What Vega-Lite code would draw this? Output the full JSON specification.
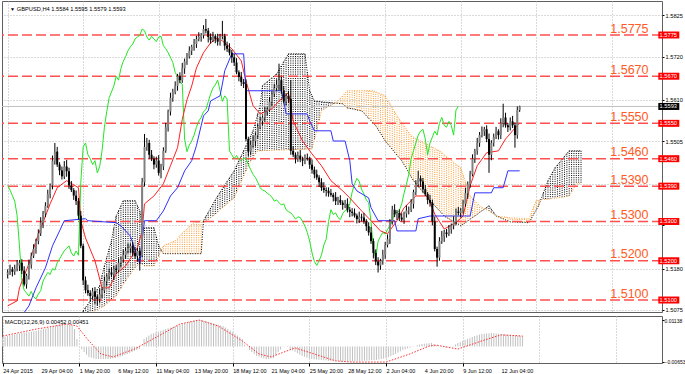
{
"$schema":"https://vega.github.io/schema/vega-lite/v6.json",
"padding":{"left":0,"top":0,"right":8,"bottom":0},
"background":"#ffffff",
"spacing":1,
"config":{
 "view":{"stroke":"#606060","strokeWidth":1},
 "font":"Liberation Sans",
 "axis":{"title":null,"labelFont":"Liberation Sans","labelFontSize":5.7,"labelColor":"#000000","tickColor":"#000000","tickSize":3,"domain":false,"gridColor":"#b4b4b4","gridDash":[1,2],"gridWidth":1,"labelOverlap":false,"labelFlush":false}
},
"datasets":{
"bars":[
{"i":0,"o":1.5165,"h":1.5178,"l":1.5155,"c":1.5170,"m":0.0041,"ch":1.5392},
{"i":1,"o":1.5170,"h":1.5190,"l":1.5164,"c":1.5178,"m":0.0043,"ch":1.5380},
{"i":2,"o":1.5178,"h":1.5184,"l":1.5160,"c":1.5172,"m":0.0046,"ch":1.5366},
{"i":3,"o":1.5172,"h":1.5190,"l":1.5164,"c":1.5180,"m":0.0048,"ch":1.5352},
{"i":4,"o":1.5180,"h":1.5202,"l":1.5173,"c":1.5188,"m":0.0050,"ch":1.5315},
{"i":5,"o":1.5188,"h":1.5202,"l":1.5174,"c":1.5195,"m":0.0052,"ch":1.5238},
{"i":6,"o":1.5195,"h":1.5204,"l":1.5166,"c":1.5175,"m":0.0054,"ch":1.5150},
{"i":7,"o":1.5175,"h":1.5186,"l":1.5135,"c":1.5140,"m":0.0056,"ch":1.5125},
{"i":8,"o":1.5140,"h":1.5167,"l":1.5129,"c":1.5162,"m":0.0058,"ch":1.5118},
{"i":9,"o":1.5162,"h":1.5203,"l":1.5152,"c":1.5190,"m":0.0060,"ch":1.5110},
{"i":10,"o":1.5190,"h":1.5221,"l":1.5180,"c":1.5213,"m":0.0061,"ch":1.5122},
{"i":11,"o":1.5213,"h":1.5242,"l":1.5207,"c":1.5230,"m":0.0063,"ch":1.5108},
{"i":12,"o":1.5230,"h":1.5256,"l":1.5218,"c":1.5250,"m":0.0064,"ch":1.5103},
{"i":13,"o":1.5250,"h":1.5280,"l":1.5242,"c":1.5270,"m":0.0066,"ch":1.5115},
{"i":14,"o":1.5270,"h":1.5311,"l":1.5263,"c":1.5297,"m":0.0067,"ch":1.5124},
{"i":15,"o":1.5297,"h":1.5327,"l":1.5283,"c":1.5320,"m":0.0070,"ch":1.5148},
{"i":16,"o":1.5320,"h":1.5349,"l":1.5311,"c":1.5340,"m":0.0072,"ch":1.5160},
{"i":17,"o":1.5340,"h":1.5381,"l":1.5335,"c":1.5370,"m":0.0075,"ch":1.5170},
{"i":18,"o":1.5370,"h":1.5397,"l":1.5359,"c":1.5392,"m":0.0077,"ch":1.5165},
{"i":19,"o":1.5392,"h":1.5468,"l":1.5382,"c":1.5455,"m":0.0080,"ch":1.5180},
{"i":20,"o":1.5455,"h":1.5500,"l":1.5445,"c":1.5478,"m":0.0083,"ch":1.5176},
{"i":21,"o":1.5478,"h":1.5490,"l":1.5439,"c":1.5445,"m":0.0087,"ch":1.5195},
{"i":22,"o":1.5445,"h":1.5451,"l":1.5418,"c":1.5430,"m":0.0090,"ch":1.5205},
{"i":23,"o":1.5430,"h":1.5440,"l":1.5407,"c":1.5415,"m":0.0093,"ch":1.5215},
{"i":24,"o":1.5415,"h":1.5454,"l":1.5408,"c":1.5440,"m":0.0095,"ch":1.5225},
{"i":25,"o":1.5440,"h":1.5457,"l":1.5414,"c":1.5428,"m":0.0097,"ch":1.5232},
{"i":26,"o":1.5428,"h":1.5437,"l":1.5383,"c":1.5392,"m":0.0099,"ch":1.5238},
{"i":27,"o":1.5392,"h":1.5403,"l":1.5375,"c":1.5380,"m":0.0097,"ch":1.5220},
{"i":28,"o":1.5380,"h":1.5385,"l":1.5355,"c":1.5366,"m":0.0095,"ch":1.5212},
{"i":29,"o":1.5366,"h":1.5379,"l":1.5342,"c":1.5352,"m":0.0093,"ch":1.5225},
{"i":30,"o":1.5352,"h":1.5360,"l":1.5305,"c":1.5315,"m":0.0075,"ch":1.5214},
{"i":31,"o":1.5315,"h":1.5327,"l":1.5232,"c":1.5238,"m":0.0032,"ch":1.5400},
{"i":32,"o":1.5238,"h":1.5244,"l":1.5138,"c":1.5150,"m":0.0000,"ch":1.5490},
{"i":33,"o":1.5150,"h":1.5160,"l":1.5117,"c":1.5125,"m":-0.0012,"ch":1.5500},
{"i":34,"o":1.5125,"h":1.5139,"l":1.5111,"c":1.5118,"m":-0.0024,"ch":1.5470},
{"i":35,"o":1.5118,"h":1.5125,"l":1.5096,"c":1.5110,"m":-0.0035,"ch":1.5460},
{"i":36,"o":1.5110,"h":1.5131,"l":1.5101,"c":1.5122,"m":-0.0045,"ch":1.5445},
{"i":37,"o":1.5122,"h":1.5133,"l":1.5090,"c":1.5108,"m":-0.0048,"ch":1.5455},
{"i":38,"o":1.5108,"h":1.5113,"l":1.5086,"c":1.5103,"m":-0.0051,"ch":1.5424},
{"i":39,"o":1.5103,"h":1.5128,"l":1.5093,"c":1.5115,"m":-0.0054,"ch":1.5440},
{"i":40,"o":1.5115,"h":1.5132,"l":1.5105,"c":1.5124,"m":-0.0054,"ch":1.5480},
{"i":41,"o":1.5124,"h":1.5160,"l":1.5118,"c":1.5148,"m":-0.0054,"ch":1.5540},
{"i":42,"o":1.5148,"h":1.5166,"l":1.5136,"c":1.5160,"m":-0.0054,"ch":1.5580},
{"i":43,"o":1.5160,"h":1.5180,"l":1.5152,"c":1.5170,"m":-0.0054,"ch":1.5615},
{"i":44,"o":1.5170,"h":1.5184,"l":1.5158,"c":1.5165,"m":-0.0054,"ch":1.5630},
{"i":45,"o":1.5165,"h":1.5187,"l":1.5151,"c":1.5180,"m":-0.0053,"ch":1.5645},
{"i":46,"o":1.5180,"h":1.5189,"l":1.5167,"c":1.5176,"m":-0.0051,"ch":1.5670},
{"i":47,"o":1.5176,"h":1.5206,"l":1.5171,"c":1.5195,"m":-0.0050,"ch":1.5660},
{"i":48,"o":1.5195,"h":1.5210,"l":1.5184,"c":1.5205,"m":-0.0047,"ch":1.5690},
{"i":49,"o":1.5205,"h":1.5228,"l":1.5195,"c":1.5215,"m":-0.0044,"ch":1.5708},
{"i":50,"o":1.5215,"h":1.5233,"l":1.5205,"c":1.5225,"m":-0.0041,"ch":1.5720},
{"i":51,"o":1.5225,"h":1.5244,"l":1.5219,"c":1.5232,"m":-0.0037,"ch":1.5735},
{"i":52,"o":1.5232,"h":1.5244,"l":1.5220,"c":1.5238,"m":-0.0033,"ch":1.5745},
{"i":53,"o":1.5238,"h":1.5248,"l":1.5212,"c":1.5220,"m":-0.0028,"ch":1.5752},
{"i":54,"o":1.5220,"h":1.5234,"l":1.5205,"c":1.5212,"m":-0.0024,"ch":1.5765},
{"i":55,"o":1.5212,"h":1.5232,"l":1.5198,"c":1.5225,"m":-0.0020,"ch":1.5770},
{"i":56,"o":1.5225,"h":1.5234,"l":1.5175,"c":1.5214,"m":-0.0015,"ch":1.5774},
{"i":57,"o":1.5214,"h":1.5411,"l":1.5209,"c":1.5400,"m":-0.0011,"ch":1.5790},
{"i":58,"o":1.5400,"h":1.5523,"l":1.5389,"c":1.5490,"m":0.0000,"ch":1.5786},
{"i":59,"o":1.5490,"h":1.5513,"l":1.5480,"c":1.5500,"m":0.0032,"ch":1.5770},
{"i":60,"o":1.5500,"h":1.5508,"l":1.5460,"c":1.5470,"m":0.0039,"ch":1.5762},
{"i":61,"o":1.5470,"h":1.5482,"l":1.5454,"c":1.5460,"m":0.0047,"ch":1.5772},
{"i":62,"o":1.5460,"h":1.5466,"l":1.5433,"c":1.5445,"m":0.0054,"ch":1.5765},
{"i":63,"o":1.5445,"h":1.5465,"l":1.5437,"c":1.5455,"m":0.0057,"ch":1.5758},
{"i":64,"o":1.5455,"h":1.5469,"l":1.5417,"c":1.5424,"m":0.0061,"ch":1.5770},
{"i":65,"o":1.5424,"h":1.5447,"l":1.5410,"c":1.5440,"m":0.0064,"ch":1.5772},
{"i":66,"o":1.5440,"h":1.5489,"l":1.5431,"c":1.5480,"m":0.0068,"ch":1.5748},
{"i":67,"o":1.5480,"h":1.5551,"l":1.5475,"c":1.5540,"m":0.0071,"ch":1.5740},
{"i":68,"o":1.5540,"h":1.5585,"l":1.5529,"c":1.5580,"m":0.0074,"ch":1.5730},
{"i":69,"o":1.5580,"h":1.5628,"l":1.5570,"c":1.5615,"m":0.0078,"ch":1.5718},
{"i":70,"o":1.5615,"h":1.5638,"l":1.5605,"c":1.5630,"m":0.0081,"ch":1.5705},
{"i":71,"o":1.5630,"h":1.5657,"l":1.5624,"c":1.5645,"m":0.0084,"ch":1.5680},
{"i":72,"o":1.5645,"h":1.5676,"l":1.5633,"c":1.5670,"m":0.0087,"ch":1.5668},
{"i":73,"o":1.5670,"h":1.5680,"l":1.5652,"c":1.5660,"m":0.0091,"ch":1.5655},
{"i":74,"o":1.5660,"h":1.5704,"l":1.5653,"c":1.5690,"m":0.0094,"ch":1.5650},
{"i":75,"o":1.5690,"h":1.5715,"l":1.5676,"c":1.5708,"m":0.0097,"ch":1.5510},
{"i":76,"o":1.5708,"h":1.5729,"l":1.5699,"c":1.5720,"m":0.0100,"ch":1.5478},
{"i":77,"o":1.5720,"h":1.5746,"l":1.5715,"c":1.5735,"m":0.0104,"ch":1.5495},
{"i":78,"o":1.5735,"h":1.5750,"l":1.5724,"c":1.5745,"m":0.0107,"ch":1.5505},
{"i":79,"o":1.5745,"h":1.5765,"l":1.5735,"c":1.5752,"m":0.0110,"ch":1.5520},
{"i":80,"o":1.5752,"h":1.5773,"l":1.5742,"c":1.5765,"m":0.0111,"ch":1.5540},
{"i":81,"o":1.5765,"h":1.5782,"l":1.5759,"c":1.5770,"m":0.0112,"ch":1.5556},
{"i":82,"o":1.5770,"h":1.5780,"l":1.5758,"c":1.5774,"m":0.0113,"ch":1.5565},
{"i":83,"o":1.5774,"h":1.5800,"l":1.5766,"c":1.5790,"m":0.0114,"ch":1.5580},
{"i":84,"o":1.5790,"h":1.5816,"l":1.5779,"c":1.5786,"m":0.0111,"ch":1.5585},
{"i":85,"o":1.5786,"h":1.5793,"l":1.5756,"c":1.5770,"m":0.0109,"ch":1.5605},
{"i":86,"o":1.5770,"h":1.5779,"l":1.5753,"c":1.5762,"m":0.0106,"ch":1.5625},
{"i":87,"o":1.5762,"h":1.5783,"l":1.5757,"c":1.5772,"m":0.0103,"ch":1.5640},
{"i":88,"o":1.5772,"h":1.5777,"l":1.5754,"c":1.5765,"m":0.0100,"ch":1.5648},
{"i":89,"o":1.5765,"h":1.5778,"l":1.5748,"c":1.5758,"m":0.0097,"ch":1.5660},
{"i":90,"o":1.5758,"h":1.5778,"l":1.5748,"c":1.5770,"m":0.0094,"ch":1.5634},
{"i":91,"o":1.5770,"h":1.5811,"l":1.5764,"c":1.5772,"m":0.0091,"ch":1.5606},
{"i":92,"o":1.5772,"h":1.5778,"l":1.5736,"c":1.5748,"m":0.0088,"ch":1.5620},
{"i":93,"o":1.5748,"h":1.5758,"l":1.5732,"c":1.5740,"m":0.0082,"ch":1.5612},
{"i":94,"o":1.5740,"h":1.5754,"l":1.5723,"c":1.5730,"m":0.0075,"ch":1.5480},
{"i":95,"o":1.5730,"h":1.5737,"l":1.5704,"c":1.5718,"m":0.0069,"ch":1.5470},
{"i":96,"o":1.5718,"h":1.5727,"l":1.5696,"c":1.5705,"m":0.0062,"ch":1.5460},
{"i":97,"o":1.5705,"h":1.5716,"l":1.5675,"c":1.5680,"m":0.0055,"ch":1.5468},
{"i":98,"o":1.5680,"h":1.5685,"l":1.5657,"c":1.5668,"m":0.0047,"ch":1.5458},
{"i":99,"o":1.5668,"h":1.5681,"l":1.5645,"c":1.5655,"m":0.0040,"ch":1.5455},
{"i":100,"o":1.5655,"h":1.5663,"l":1.5640,"c":1.5650,"m":0.0032,"ch":1.5462},
{"i":101,"o":1.5650,"h":1.5662,"l":1.5504,"c":1.5510,"m":0.0008,"ch":1.5460},
{"i":102,"o":1.5510,"h":1.5516,"l":1.5466,"c":1.5478,"m":0.0000,"ch":1.5445},
{"i":103,"o":1.5478,"h":1.5505,"l":1.5470,"c":1.5495,"m":-0.0015,"ch":1.5432},
{"i":104,"o":1.5495,"h":1.5519,"l":1.5488,"c":1.5505,"m":-0.0024,"ch":1.5420},
{"i":105,"o":1.5505,"h":1.5527,"l":1.5491,"c":1.5520,"m":-0.0032,"ch":1.5412},
{"i":106,"o":1.5520,"h":1.5549,"l":1.5511,"c":1.5540,"m":-0.0041,"ch":1.5400},
{"i":107,"o":1.5540,"h":1.5567,"l":1.5535,"c":1.5556,"m":-0.0044,"ch":1.5386},
{"i":108,"o":1.5556,"h":1.5570,"l":1.5545,"c":1.5565,"m":-0.0048,"ch":1.5380},
{"i":109,"o":1.5565,"h":1.5593,"l":1.5555,"c":1.5580,"m":-0.0051,"ch":1.5378},
{"i":110,"o":1.5580,"h":1.5593,"l":1.5570,"c":1.5585,"m":-0.0054,"ch":1.5372},
{"i":111,"o":1.5585,"h":1.5617,"l":1.5579,"c":1.5605,"m":-0.0053,"ch":1.5368},
{"i":112,"o":1.5605,"h":1.5631,"l":1.5593,"c":1.5625,"m":-0.0051,"ch":1.5362},
{"i":113,"o":1.5625,"h":1.5650,"l":1.5617,"c":1.5640,"m":-0.0050,"ch":1.5352},
{"i":114,"o":1.5640,"h":1.5662,"l":1.5633,"c":1.5648,"m":-0.0037,"ch":1.5355},
{"i":115,"o":1.5648,"h":1.5702,"l":1.5634,"c":1.5660,"m":-0.0024,"ch":1.5348},
{"i":116,"o":1.5660,"h":1.5669,"l":1.5625,"c":1.5634,"m":-0.0013,"ch":1.5342},
{"i":117,"o":1.5634,"h":1.5645,"l":1.5601,"c":1.5606,"m":-0.0002,"ch":1.5345},
{"i":118,"o":1.5606,"h":1.5625,"l":1.5595,"c":1.5620,"m":0.0000,"ch":1.5330},
{"i":119,"o":1.5620,"h":1.5633,"l":1.5602,"c":1.5612,"m":0.0002,"ch":1.5325},
{"i":120,"o":1.5612,"h":1.5660,"l":1.5470,"c":1.5480,"m":-0.0011,"ch":1.5322},
{"i":121,"o":1.5480,"h":1.5492,"l":1.5464,"c":1.5470,"m":-0.0017,"ch":1.5315},
{"i":122,"o":1.5470,"h":1.5476,"l":1.5448,"c":1.5460,"m":-0.0023,"ch":1.5306},
{"i":123,"o":1.5460,"h":1.5478,"l":1.5452,"c":1.5468,"m":-0.0029,"ch":1.5312},
{"i":124,"o":1.5468,"h":1.5482,"l":1.5451,"c":1.5458,"m":-0.0035,"ch":1.5310},
{"i":125,"o":1.5458,"h":1.5465,"l":1.5441,"c":1.5455,"m":-0.0041,"ch":1.5300},
{"i":126,"o":1.5455,"h":1.5471,"l":1.5446,"c":1.5462,"m":-0.0044,"ch":1.5288},
{"i":127,"o":1.5462,"h":1.5473,"l":1.5455,"c":1.5460,"m":-0.0048,"ch":1.5272},
{"i":128,"o":1.5460,"h":1.5465,"l":1.5434,"c":1.5445,"m":-0.0051,"ch":1.5250},
{"i":129,"o":1.5445,"h":1.5458,"l":1.5422,"c":1.5432,"m":-0.0054,"ch":1.5220},
{"i":130,"o":1.5432,"h":1.5440,"l":1.5410,"c":1.5420,"m":-0.0055,"ch":1.5198},
{"i":131,"o":1.5420,"h":1.5432,"l":1.5406,"c":1.5412,"m":-0.0056,"ch":1.5188},
{"i":132,"o":1.5412,"h":1.5418,"l":1.5388,"c":1.5400,"m":-0.0057,"ch":1.5200},
{"i":133,"o":1.5400,"h":1.5410,"l":1.5378,"c":1.5386,"m":-0.0058,"ch":1.5215},
{"i":134,"o":1.5386,"h":1.5400,"l":1.5373,"c":1.5380,"m":-0.0059,"ch":1.5240},
{"i":135,"o":1.5380,"h":1.5387,"l":1.5364,"c":1.5378,"m":-0.0060,"ch":1.5255},
{"i":136,"o":1.5378,"h":1.5387,"l":1.5363,"c":1.5372,"m":-0.0061,"ch":1.5300},
{"i":137,"o":1.5372,"h":1.5383,"l":1.5363,"c":1.5368,"m":-0.0062,"ch":1.5330},
{"i":138,"o":1.5368,"h":1.5373,"l":1.5351,"c":1.5362,"m":-0.0062,"ch":1.5318},
{"i":139,"o":1.5362,"h":1.5375,"l":1.5342,"c":1.5352,"m":-0.0063,"ch":1.5322},
{"i":140,"o":1.5352,"h":1.5363,"l":1.5342,"c":1.5355,"m":-0.0063,"ch":1.5310},
{"i":141,"o":1.5355,"h":1.5367,"l":1.5342,"c":1.5348,"m":-0.0064,"ch":1.5305},
{"i":142,"o":1.5348,"h":1.5354,"l":1.5330,"c":1.5342,"m":-0.0064,"ch":1.5320},
{"i":143,"o":1.5342,"h":1.5355,"l":1.5334,"c":1.5345,"m":-0.0065,"ch":1.5328},
{"i":144,"o":1.5345,"h":1.5359,"l":1.5323,"c":1.5330,"m":-0.0065,"ch":1.5330},
{"i":145,"o":1.5330,"h":1.5337,"l":1.5311,"c":1.5325,"m":-0.0065,"ch":1.5345},
{"i":146,"o":1.5325,"h":1.5334,"l":1.5313,"c":1.5322,"m":-0.0064,"ch":1.5375},
{"i":147,"o":1.5322,"h":1.5333,"l":1.5310,"c":1.5315,"m":-0.0064,"ch":1.5395},
{"i":148,"o":1.5315,"h":1.5320,"l":1.5295,"c":1.5306,"m":-0.0063,"ch":1.5410},
{"i":149,"o":1.5306,"h":1.5325,"l":1.5296,"c":1.5312,"m":-0.0063,"ch":1.5402},
{"i":150,"o":1.5312,"h":1.5320,"l":1.5300,"c":1.5310,"m":-0.0062,"ch":1.5382},
{"i":151,"o":1.5310,"h":1.5322,"l":1.5294,"c":1.5300,"m":-0.0061,"ch":1.5370},
{"i":152,"o":1.5300,"h":1.5306,"l":1.5276,"c":1.5288,"m":-0.0061,"ch":1.5355},
{"i":153,"o":1.5288,"h":1.5298,"l":1.5264,"c":1.5272,"m":-0.0060,"ch":1.5348},
{"i":154,"o":1.5272,"h":1.5286,"l":1.5243,"c":1.5250,"m":-0.0059,"ch":1.5300},
{"i":155,"o":1.5250,"h":1.5257,"l":1.5206,"c":1.5220,"m":-0.0059,"ch":1.5230},
{"i":156,"o":1.5220,"h":1.5229,"l":1.5189,"c":1.5198,"m":-0.0058,"ch":1.5208},
{"i":157,"o":1.5198,"h":1.5209,"l":1.5170,"c":1.5188,"m":-0.0056,"ch":1.5250},
{"i":158,"o":1.5188,"h":1.5205,"l":1.5177,"c":1.5200,"m":-0.0054,"ch":1.5262},
{"i":159,"o":1.5200,"h":1.5228,"l":1.5190,"c":1.5215,"m":-0.0052,"ch":1.5272},
{"i":160,"o":1.5215,"h":1.5248,"l":1.5205,"c":1.5240,"m":-0.0050,"ch":1.5268},
{"i":161,"o":1.5240,"h":1.5267,"l":1.5234,"c":1.5255,"m":-0.0046,"ch":1.5280},
{"i":162,"o":1.5255,"h":1.5306,"l":1.5243,"c":1.5300,"m":-0.0041,"ch":1.5290},
{"i":163,"o":1.5300,"h":1.5340,"l":1.5292,"c":1.5330,"m":-0.0037,"ch":1.5300},
{"i":164,"o":1.5330,"h":1.5344,"l":1.5311,"c":1.5318,"m":-0.0032,"ch":1.5325},
{"i":165,"o":1.5318,"h":1.5329,"l":1.5304,"c":1.5322,"m":-0.0026,"ch":1.5322},
{"i":166,"o":1.5322,"h":1.5331,"l":1.5301,"c":1.5310,"m":-0.0021,"ch":1.5328},
{"i":167,"o":1.5310,"h":1.5321,"l":1.5300,"c":1.5305,"m":-0.0015,"ch":1.5345},
{"i":168,"o":1.5305,"h":1.5325,"l":1.5294,"c":1.5320,"m":-0.0012,"ch":1.5372},
{"i":169,"o":1.5320,"h":1.5341,"l":1.5310,"c":1.5328,"m":-0.0008,"ch":1.5395},
{"i":170,"o":1.5328,"h":1.5338,"l":1.5318,"c":1.5330,"m":-0.0005,"ch":1.5420},
{"i":171,"o":1.5330,"h":1.5357,"l":1.5324,"c":1.5345,"m":-0.0002,"ch":1.5460},
{"i":172,"o":1.5345,"h":1.5381,"l":1.5333,"c":1.5375,"m":0.0001,"ch":1.5480},
{"i":173,"o":1.5375,"h":1.5405,"l":1.5367,"c":1.5395,"m":0.0005,"ch":1.5500},
{"i":174,"o":1.5395,"h":1.5429,"l":1.5388,"c":1.5410,"m":0.0008,"ch":1.5520},
{"i":175,"o":1.5410,"h":1.5417,"l":1.5388,"c":1.5402,"m":0.0011,"ch":1.5530},
{"i":176,"o":1.5402,"h":1.5411,"l":1.5373,"c":1.5382,"m":0.0012,"ch":1.5535},
{"i":177,"o":1.5382,"h":1.5393,"l":1.5365,"c":1.5370,"m":0.0013,"ch":1.5510},
{"i":178,"o":1.5370,"h":1.5375,"l":1.5344,"c":1.5355,"m":0.0014,"ch":1.5470},
{"i":179,"o":1.5355,"h":1.5368,"l":1.5338,"c":1.5348,"m":0.0015,"ch":1.5500},
{"i":180,"o":1.5348,"h":1.5356,"l":1.5290,"c":1.5300,"m":0.0011,"ch":1.5515},
{"i":181,"o":1.5300,"h":1.5312,"l":1.5224,"c":1.5230,"m":0.0006,"ch":1.5530},
{"i":182,"o":1.5230,"h":1.5236,"l":1.5185,"c":1.5208,"m":0.0002,"ch":1.5520},
{"i":183,"o":1.5208,"h":1.5260,"l":1.5200,"c":1.5250,"m":-0.0001,"ch":1.5550},
{"i":184,"o":1.5250,"h":1.5276,"l":1.5243,"c":1.5262,"m":-0.0003,"ch":1.5565},
{"i":185,"o":1.5262,"h":1.5279,"l":1.5248,"c":1.5272,"m":-0.0006,"ch":1.5545},
{"i":186,"o":1.5272,"h":1.5281,"l":1.5259,"c":1.5268,"m":-0.0003,"ch":1.5540},
{"i":187,"o":1.5268,"h":1.5291,"l":1.5263,"c":1.5280,"m":-0.0001,"ch":1.5555},
{"i":188,"o":1.5280,"h":1.5295,"l":1.5269,"c":1.5290,"m":0.0002,"ch":1.5545},
{"i":189,"o":1.5290,"h":1.5313,"l":1.5280,"c":1.5300,"m":0.0009,"ch":1.5520},
{"i":190,"o":1.5300,"h":1.5333,"l":1.5290,"c":1.5325,"m":0.0015,"ch":1.5584},
{"i":191,"o":1.5325,"h":1.5337,"l":1.5316,"c":1.5322,"m":0.0019,"ch":1.5593},
{"i":192,"o":1.5322,"h":1.5334,"l":1.5310,"c":1.5328,"m":0.0024},
{"i":193,"o":1.5328,"h":1.5355,"l":1.5320,"c":1.5345,"m":0.0028},
{"i":194,"o":1.5345,"h":1.5386,"l":1.5338,"c":1.5372,"m":0.0032},
{"i":195,"o":1.5372,"h":1.5402,"l":1.5358,"c":1.5395,"m":0.0036},
{"i":196,"o":1.5395,"h":1.5429,"l":1.5386,"c":1.5420,"m":0.0041},
{"i":197,"o":1.5420,"h":1.5471,"l":1.5415,"c":1.5460,"m":0.0045},
{"i":198,"o":1.5460,"h":1.5485,"l":1.5449,"c":1.5480,"m":0.0048},
{"i":199,"o":1.5480,"h":1.5513,"l":1.5470,"c":1.5500,"m":0.0051},
{"i":200,"o":1.5500,"h":1.5528,"l":1.5490,"c":1.5520,"m":0.0054},
{"i":201,"o":1.5520,"h":1.5542,"l":1.5514,"c":1.5530,"m":0.0055},
{"i":202,"o":1.5530,"h":1.5541,"l":1.5518,"c":1.5535,"m":0.0056},
{"i":203,"o":1.5535,"h":1.5545,"l":1.5502,"c":1.5510,"m":0.0057},
{"i":204,"o":1.5510,"h":1.5524,"l":1.5424,"c":1.5470,"m":0.0058},
{"i":205,"o":1.5470,"h":1.5507,"l":1.5456,"c":1.5500,"m":0.0057},
{"i":206,"o":1.5500,"h":1.5524,"l":1.5491,"c":1.5515,"m":0.0056},
{"i":207,"o":1.5515,"h":1.5541,"l":1.5510,"c":1.5530,"m":0.0055},
{"i":208,"o":1.5530,"h":1.5535,"l":1.5509,"c":1.5520,"m":0.0054},
{"i":209,"o":1.5520,"h":1.5563,"l":1.5510,"c":1.5550,"m":0.0053},
{"i":210,"o":1.5550,"h":1.5600,"l":1.5540,"c":1.5565,"m":0.0052},
{"i":211,"o":1.5565,"h":1.5577,"l":1.5539,"c":1.5545,"m":0.0051},
{"i":212,"o":1.5545,"h":1.5551,"l":1.5528,"c":1.5540,"m":0.0050},
{"i":213,"o":1.5540,"h":1.5565,"l":1.5532,"c":1.5555,"m":0.0049},
{"i":214,"o":1.5555,"h":1.5569,"l":1.5538,"c":1.5545,"m":0.0048},
{"i":215,"o":1.5545,"h":1.5552,"l":1.5488,"c":1.5520,"m":0.0047},
{"i":216,"o":1.5520,"h":1.5593,"l":1.5511,"c":1.5584,"m":0.0046},
{"i":217,"o":1.5584,"h":1.5595,"l":1.5579,"c":1.5593,"m":0.0045}
],
"kumo":[
{"i":32,"a":1.5072,"b":1.5047},{"i":33,"a":1.5081,"b":1.5052},{"i":34,"a":1.5089,"b":1.5057},{"i":35,"a":1.5098,"b":1.5062},{"i":36,"a":1.5108,"b":1.5067},{"i":37,"a":1.5117,"b":1.5072},{"i":38,"a":1.5127,"b":1.5075},{"i":39,"a":1.5136,"b":1.5079},{"i":40,"a":1.5162,"b":1.5082},{"i":41,"a":1.5187,"b":1.5085},
{"i":42,"a":1.5208,"b":1.5090},{"i":43,"a":1.5230,"b":1.5095},{"i":44,"a":1.5251,"b":1.5101},{"i":45,"a":1.5283,"b":1.5106},{"i":46,"a":1.5314,"b":1.5111},{"i":47,"a":1.5327,"b":1.5121},{"i":48,"a":1.5340,"b":1.5130},{"i":49,"a":1.5353,"b":1.5140},{"i":50,"a":1.5353,"b":1.5149},{"i":51,"a":1.5353,"b":1.5157},
{"i":52,"a":1.5353,"b":1.5166},{"i":53,"a":1.5353,"b":1.5174},{"i":54,"a":1.5353,"b":1.5181},{"i":55,"a":1.5340,"b":1.5188},{"i":56,"a":1.5327,"b":1.5195},{"i":57,"a":1.5284,"b":1.5191},{"i":58,"a":1.5284,"b":1.5187},{"i":59,"a":1.5284,"b":1.5187},{"i":60,"a":1.5284,"b":1.5187},{"i":61,"a":1.5284,"b":1.5187},
{"i":62,"a":1.5284,"b":1.5187},{"i":63,"a":1.5261,"b":1.5200},{"i":64,"a":1.5238,"b":1.5212},{"i":65,"a":1.5228,"b":1.5225},{"i":66,"a":1.5218,"b":1.5238},{"i":67,"a":1.5218,"b":1.5241},{"i":68,"a":1.5218,"b":1.5243},{"i":69,"a":1.5218,"b":1.5246},{"i":70,"a":1.5218,"b":1.5248},{"i":71,"a":1.5218,"b":1.5251},
{"i":72,"a":1.5218,"b":1.5257},{"i":73,"a":1.5218,"b":1.5264},{"i":74,"a":1.5218,"b":1.5270},{"i":75,"a":1.5218,"b":1.5276},{"i":76,"a":1.5218,"b":1.5281},{"i":77,"a":1.5218,"b":1.5287},{"i":78,"a":1.5218,"b":1.5292},{"i":79,"a":1.5218,"b":1.5297},{"i":80,"a":1.5218,"b":1.5299},{"i":81,"a":1.5218,"b":1.5300},
{"i":82,"a":1.5218,"b":1.5302},{"i":83,"a":1.5302,"b":1.5297},{"i":84,"a":1.5313,"b":1.5301},{"i":85,"a":1.5323,"b":1.5305},{"i":86,"a":1.5334,"b":1.5310},{"i":87,"a":1.5344,"b":1.5314},{"i":88,"a":1.5355,"b":1.5319},{"i":89,"a":1.5365,"b":1.5324},{"i":90,"a":1.5374,"b":1.5330},{"i":91,"a":1.5383,"b":1.5335},
{"i":92,"a":1.5392,"b":1.5340},{"i":93,"a":1.5402,"b":1.5345},{"i":94,"a":1.5411,"b":1.5350},{"i":95,"a":1.5420,"b":1.5355},{"i":96,"a":1.5429,"b":1.5360},{"i":97,"a":1.5442,"b":1.5374},{"i":98,"a":1.5455,"b":1.5388},{"i":99,"a":1.5467,"b":1.5402},{"i":100,"a":1.5480,"b":1.5416},{"i":101,"a":1.5493,"b":1.5429},
{"i":102,"a":1.5505,"b":1.5442},{"i":103,"a":1.5518,"b":1.5455},{"i":104,"a":1.5531,"b":1.5463},{"i":105,"a":1.5552,"b":1.5472},{"i":106,"a":1.5574,"b":1.5480},{"i":107,"a":1.5595,"b":1.5480},{"i":108,"a":1.5646,"b":1.5480},{"i":109,"a":1.5651,"b":1.5481},{"i":110,"a":1.5656,"b":1.5481},{"i":111,"a":1.5661,"b":1.5481},
{"i":112,"a":1.5666,"b":1.5481},{"i":113,"a":1.5671,"b":1.5481},{"i":114,"a":1.5676,"b":1.5482},{"i":115,"a":1.5686,"b":1.5482},{"i":116,"a":1.5696,"b":1.5482},{"i":117,"a":1.5707,"b":1.5482},{"i":118,"a":1.5717,"b":1.5483},{"i":119,"a":1.5727,"b":1.5483},{"i":120,"a":1.5727,"b":1.5483},{"i":121,"a":1.5727,"b":1.5483},
{"i":122,"a":1.5727,"b":1.5483},{"i":123,"a":1.5727,"b":1.5484},{"i":124,"a":1.5727,"b":1.5484},{"i":125,"a":1.5727,"b":1.5484},{"i":126,"a":1.5727,"b":1.5484},{"i":127,"a":1.5680,"b":1.5485},{"i":128,"a":1.5633,"b":1.5485},{"i":129,"a":1.5620,"b":1.5485},{"i":130,"a":1.5607,"b":1.5508},{"i":131,"a":1.5606,"b":1.5531},
{"i":132,"a":1.5606,"b":1.5557},{"i":133,"a":1.5605,"b":1.5582},{"i":134,"a":1.5604,"b":1.5586},{"i":135,"a":1.5604,"b":1.5589},{"i":136,"a":1.5603,"b":1.5593},{"i":137,"a":1.5603,"b":1.5596},{"i":138,"a":1.5602,"b":1.5600},{"i":139,"a":1.5601,"b":1.5603},{"i":140,"a":1.5601,"b":1.5607},{"i":141,"a":1.5600,"b":1.5614},
{"i":142,"a":1.5600,"b":1.5620},{"i":143,"a":1.5594,"b":1.5627},{"i":144,"a":1.5589,"b":1.5633},{"i":145,"a":1.5588,"b":1.5633},{"i":146,"a":1.5587,"b":1.5633},{"i":147,"a":1.5586,"b":1.5633},{"i":148,"a":1.5584,"b":1.5633},{"i":149,"a":1.5583,"b":1.5633},{"i":150,"a":1.5582,"b":1.5633},{"i":151,"a":1.5576,"b":1.5633},
{"i":152,"a":1.5569,"b":1.5633},{"i":153,"a":1.5563,"b":1.5633},{"i":154,"a":1.5557,"b":1.5633},{"i":155,"a":1.5550,"b":1.5633},{"i":156,"a":1.5544,"b":1.5630},{"i":157,"a":1.5534,"b":1.5628},{"i":158,"a":1.5525,"b":1.5625},{"i":159,"a":1.5515,"b":1.5623},{"i":160,"a":1.5505,"b":1.5620},{"i":161,"a":1.5498,"b":1.5610},
{"i":162,"a":1.5491,"b":1.5600},{"i":163,"a":1.5484,"b":1.5589},{"i":164,"a":1.5476,"b":1.5579},{"i":165,"a":1.5469,"b":1.5569},{"i":166,"a":1.5462,"b":1.5561},{"i":167,"a":1.5455,"b":1.5552},{"i":168,"a":1.5445,"b":1.5544},{"i":169,"a":1.5435,"b":1.5535},{"i":170,"a":1.5424,"b":1.5527},{"i":171,"a":1.5414,"b":1.5518},
{"i":172,"a":1.5404,"b":1.5515},{"i":173,"a":1.5397,"b":1.5511},{"i":174,"a":1.5389,"b":1.5508},{"i":175,"a":1.5382,"b":1.5505},{"i":176,"a":1.5375,"b":1.5502},{"i":177,"a":1.5367,"b":1.5499},{"i":178,"a":1.5360,"b":1.5496},{"i":179,"a":1.5353,"b":1.5492},{"i":180,"a":1.5347,"b":1.5489},{"i":181,"a":1.5340,"b":1.5486},
{"i":182,"a":1.5334,"b":1.5483},{"i":183,"a":1.5327,"b":1.5480},{"i":184,"a":1.5321,"b":1.5475},{"i":185,"a":1.5314,"b":1.5470},{"i":186,"a":1.5310,"b":1.5466},{"i":187,"a":1.5307,"b":1.5461},{"i":188,"a":1.5303,"b":1.5456},{"i":189,"a":1.5300,"b":1.5451},{"i":190,"a":1.5296,"b":1.5446},{"i":191,"a":1.5293,"b":1.5442},
{"i":192,"a":1.5289,"b":1.5437},{"i":193,"a":1.5293,"b":1.5419},{"i":194,"a":1.5297,"b":1.5401},{"i":195,"a":1.5301,"b":1.5383},{"i":196,"a":1.5306,"b":1.5365},{"i":197,"a":1.5310,"b":1.5359},{"i":198,"a":1.5314,"b":1.5353},{"i":199,"a":1.5318,"b":1.5346},{"i":200,"a":1.5323,"b":1.5340},{"i":201,"a":1.5327,"b":1.5337},
{"i":202,"a":1.5331,"b":1.5333},{"i":203,"a":1.5336,"b":1.5330},{"i":204,"a":1.5340,"b":1.5327},{"i":205,"a":1.5331,"b":1.5323},{"i":206,"a":1.5323,"b":1.5318},{"i":207,"a":1.5314,"b":1.5314},{"i":208,"a":1.5312,"b":1.5313},{"i":209,"a":1.5309,"b":1.5312},{"i":210,"a":1.5307,"b":1.5312},{"i":211,"a":1.5304,"b":1.5311},
{"i":212,"a":1.5302,"b":1.5310},{"i":213,"a":1.5299,"b":1.5309},{"i":214,"a":1.5299,"b":1.5309},{"i":215,"a":1.5299,"b":1.5309},{"i":216,"a":1.5298,"b":1.5308},{"i":217,"a":1.5298,"b":1.5308},{"i":218,"a":1.5298,"b":1.5308},{"i":219,"a":1.5298,"b":1.5308},{"i":220,"a":1.5297,"b":1.5307},{"i":221,"a":1.5297,"b":1.5307},
{"i":222,"a":1.5308,"b":1.5322},{"i":223,"a":1.5319,"b":1.5338},{"i":224,"a":1.5329,"b":1.5353},{"i":225,"a":1.5340,"b":1.5354},{"i":226,"a":1.5356,"b":1.5355},{"i":227,"a":1.5372,"b":1.5356},{"i":228,"a":1.5388,"b":1.5357},{"i":229,"a":1.5404,"b":1.5357},{"i":230,"a":1.5415,"b":1.5358},{"i":231,"a":1.5426,"b":1.5359},
{"i":232,"a":1.5437,"b":1.5359},{"i":233,"a":1.5444,"b":1.5360},{"i":234,"a":1.5451,"b":1.5361},{"i":235,"a":1.5459,"b":1.5362},{"i":236,"a":1.5466,"b":1.5363},{"i":237,"a":1.5473,"b":1.5364},{"i":238,"a":1.5480,"b":1.5365},{"i":239,"a":1.5480,"b":1.5375},{"i":240,"a":1.5480,"b":1.5386},{"i":241,"a":1.5480,"b":1.5396},
{"i":242,"a":1.5480,"b":1.5396},{"i":243,"a":1.5480,"b":1.5396}
],
"ten":[
{"i":0,"v":1.5085},{"i":4,"v":1.5098},{"i":5,"v":1.5131},{"i":9,"v":1.5192},{"i":12,"v":1.5251},{"i":18,"v":1.5345},{"i":21,"v":1.5386},{"i":25,"v":1.5404},{"i":30,"v":1.5386},{"i":31,"v":1.5302},{"i":33,"v":1.5258},{"i":37,"v":1.5200},{"i":40,"v":1.5131},{"i":43,"v":1.5131},{"i":46,"v":1.5167},{"i":50,"v":1.5187},{"i":55,"v":1.5233},{"i":57,"v":1.5276},{"i":58,"v":1.5345},{"i":62,"v":1.5365},{"i":66,"v":1.5396},{"i":69,"v":1.5442},{"i":72,"v":1.5488},{"i":74,"v":1.5560},{"i":76,"v":1.5610},{"i":78,"v":1.5645},{"i":80,"v":1.5691},{"i":83,"v":1.5730},{"i":86,"v":1.5755},{"i":89,"v":1.5768},{"i":91,"v":1.5760},{"i":95,"v":1.5740},{"i":99,"v":1.5709},{"i":101,"v":1.5658},{"i":104,"v":1.5595},{"i":107,"v":1.5574},{"i":112,"v":1.5587},{"i":115,"v":1.5607},{"i":119,"v":1.5628},{"i":121,"v":1.5556},{"i":125,"v":1.5505},{"i":129,"v":1.5472},{"i":133,"v":1.5442},{"i":137,"v":1.5404},{"i":142,"v":1.5378},{"i":145,"v":1.5360},{"i":150,"v":1.5327},{"i":154,"v":1.5302},{"i":158,"v":1.5276},{"i":161,"v":1.5269},{"i":165,"v":1.5302},{"i":168,"v":1.5335},{"i":173,"v":1.5365},{"i":178,"v":1.5365},{"i":181,"v":1.5319},{"i":185,"v":1.5281},{"i":190,"v":1.5297},{"i":193,"v":1.5314},{"i":196,"v":1.5391},{"i":199,"v":1.5442},{"i":203,"v":1.5475},{"i":208,"v":1.5480},{"i":211,"v":1.5510},{"i":214,"v":1.5531},{"i":217,"v":1.5551}
],
"kij":[
{"i":6,"v":1.5060},{"i":9,"v":1.5085},{"i":12,"v":1.5131},{"i":16,"v":1.5182},{"i":19,"v":1.5238},{"i":22,"v":1.5276},{"i":24,"v":1.5302},{"i":33,"v":1.5307},{"i":34,"v":1.5302},{"i":46,"v":1.5297},{"i":48,"v":1.5289},{"i":52,"v":1.5263},{"i":56,"v":1.5192},{"i":57,"v":1.5251},{"i":58,"v":1.5302},{"i":63,"v":1.5302},{"i":66,"v":1.5327},{"i":69,"v":1.5365},{"i":72,"v":1.5386},{"i":75,"v":1.5429},{"i":78,"v":1.5455},{"i":80,"v":1.5493},{"i":82,"v":1.5544},{"i":83,"v":1.5569},{"i":85,"v":1.5582},{"i":86,"v":1.5607},{"i":90,"v":1.5620},{"i":91,"v":1.5650},{"i":92,"v":1.5684},{"i":95,"v":1.5727},{"i":100,"v":1.5727},{"i":101,"v":1.5633},{"i":116,"v":1.5633},{"i":117,"v":1.5607},{"i":118,"v":1.5574},{"i":127,"v":1.5574},{"i":128,"v":1.5556},{"i":130,"v":1.5531},{"i":137,"v":1.5531},{"i":138,"v":1.5505},{"i":143,"v":1.5505},{"i":145,"v":1.5455},{"i":146,"v":1.5396},{"i":148,"v":1.5378},{"i":153,"v":1.5360},{"i":154,"v":1.5335},{"i":157,"v":1.5302},{"i":164,"v":1.5302},{"i":165,"v":1.5276},{"i":173,"v":1.5276},{"i":174,"v":1.5307},{"i":179,"v":1.5314},{"i":196,"v":1.5314},{"i":198,"v":1.5373},{"i":205,"v":1.5373},{"i":206,"v":1.5386},{"i":210,"v":1.5386},{"i":212,"v":1.5429},{"i":217,"v":1.5429}
],
"sig":[
{"i":0,"v":0.0045},{"i":14,"v":0.0075},{"i":27,"v":0.0097},{"i":31,"v":0.0088},{"i":36,"v":0.0024},{"i":41,"v":-0.0032},{"i":46,"v":-0.0045},{"i":55,"v":-0.0011},{"i":65,"v":0.0045},{"i":74,"v":0.0097},{"i":82,"v":0.0114},{"i":90,"v":0.0088},{"i":100,"v":0.0024},{"i":107,"v":-0.0032},{"i":112,"v":-0.0045},{"i":122,"v":-0.0006},{"i":130,"v":-0.0032},{"i":139,"v":-0.0062},{"i":146,"v":-0.0067},{"i":160,"v":-0.0067},{"i":170,"v":-0.0032},{"i":178,"v":0.0002},{"i":181,"v":0.0006},{"i":190,"v":-0.0011},{"i":200,"v":0.0024},{"i":208,"v":0.0050},{"i":217,"v":0.0045}
],
"lev":[{"p":1.5775},{"p":1.5670},{"p":1.5550},{"p":1.5460},{"p":1.5390},{"p":1.5300},{"p":1.5200},{"p":1.5100}],
"xl":[{"i":0,"t":"24 Apr 2015"},{"i":16,"t":"29 Apr 04:00"},{"i":32,"t":"1 May 20:00"},{"i":48,"t":"6 May 12:00"},{"i":64,"t":"11 May 04:00"},{"i":80,"t":"13 May 20:00"},{"i":96,"t":"18 May 12:00"},{"i":112,"t":"21 May 04:00"},{"i":128,"t":"25 May 20:00"},{"i":144,"t":"28 May 12:00"},{"i":160,"t":"2 Jun 04:00"},{"i":176,"t":"4 Jun 20:00"},{"i":192,"t":"9 Jun 12:00"},{"i":208,"t":"12 Jun 04:00"}]
},
"vconcat":[
{
 "width":660,"height":311,
 "layer":[
  {"data":{"name":"kumo"},
   "mark":{"type":"rule","strokeWidth":1,"strokeDash":[1,1.2],"clip":true},
   "encoding":{
    "x":{"field":"i","type":"quantitative","scale":{"domain":[-0.28,275.2],"nice":false,"zero":false},
         "axis":{"orient":"bottom","grid":true,"values":[0,8,16,24,32,40,48,56,64,72,80,88,96,104,112,120,128,136,144,152,160,168,176,184,192,200,208,216,224,232,240,248,256,264,272],"labels":false,"ticks":false,"domain":false,"minExtent":0,"maxExtent":0,"offset":0}},
    "y":{"field":"a","type":"quantitative","scale":{"domain":[1.50695,1.58616],"nice":false,"zero":false},
         "axis":{"orient":"right","grid":true,"values":[1.5825,1.577,1.572,1.5665,1.561,1.5555,1.5505,1.545,1.5395,1.534,1.529,1.5235,1.518,1.5125,1.5075],
                 "labelExpr":"indexof([15770,15665,15555,15450,15395,15290], round(datum.value*10000)) >= 0 ? '' : format(datum.value, '.4f')",
                 "labelPadding":1,"tickSize":2,"labelBaseline":"middle","labelOverlap":false}},
    "y2":{"field":"b"},
    "color":{"condition":{"test":"datum.a > datum.b","value":"#000000"},"value":"#f89a30"}
   }},
  {"data":{"name":"kumo"},"mark":{"type":"line","color":"#000000","strokeWidth":1,"strokeDash":[1,1.5],"clip":true},
   "encoding":{"x":{"field":"i","type":"quantitative"},"y":{"field":"a","type":"quantitative"}}},
  {"data":{"name":"kumo"},"mark":{"type":"line","color":"#f89a30","strokeWidth":1,"strokeDash":[1,1.5],"clip":true},
   "encoding":{"x":{"field":"i","type":"quantitative"},"y":{"field":"b","type":"quantitative"}}},
  {"data":{"values":[{}]},"mark":{"type":"rule","color":"#c0c0c0","strokeWidth":1},
   "encoding":{"y":{"datum":1.5593}}},
  {"data":{"name":"lev"},"mark":{"type":"rule","color":"#ff5050","strokeWidth":1.5,"strokeDash":[10,4]},
   "encoding":{"y":{"field":"p","type":"quantitative"}}},
  {"data":{"name":"bars"},"mark":{"type":"line","color":"#22e622","strokeWidth":1},
   "encoding":{"x":{"field":"i","type":"quantitative"},"y":{"field":"ch","type":"quantitative"}}},
  {"data":{"name":"ten"},"mark":{"type":"line","color":"#ff2020","strokeWidth":1},
   "encoding":{"x":{"field":"i","type":"quantitative"},"y":{"field":"v","type":"quantitative"}}},
  {"data":{"name":"kij"},"mark":{"type":"line","color":"#3030ff","strokeWidth":1,"clip":true},
   "encoding":{"x":{"field":"i","type":"quantitative"},"y":{"field":"v","type":"quantitative"}}},
  {"data":{"name":"bars"},"mark":{"type":"rule","color":"#000000","strokeWidth":1},
   "encoding":{"x":{"field":"i","type":"quantitative"},"y":{"field":"l","type":"quantitative"},"y2":{"field":"h"}}},
  {"data":{"name":"bars"},"mark":{"type":"bar","size":2},
   "encoding":{"x":{"field":"i","type":"quantitative"},"y":{"field":"o","type":"quantitative"},"y2":{"field":"c"},
    "color":{"condition":{"test":"datum.c >= datum.o","value":"#808080"},"value":"#000000"}}},
  {"data":{"name":"lev"},"mark":{"type":"text","align":"right","baseline":"alphabetic","dy":-2.5,"fontSize":12.5,"font":"Liberation Sans","color":"#ff5a24"},
   "encoding":{"x":{"datum":271.6},"y":{"field":"p","type":"quantitative"},"text":{"field":"p","type":"quantitative","format":".4f"}}},
  {"data":{"name":"lev"},"mark":{"type":"tick","orient":"horizontal","size":21,"thickness":7,"color":"#ff0000","opacity":1},
   "encoding":{"x":{"datum":280.2},"y":{"field":"p","type":"quantitative"}}},
  {"data":{"name":"lev"},"mark":{"type":"text","align":"left","baseline":"middle","fontSize":5.7,"color":"#ffffff"},
   "encoding":{"x":{"datum":276.3},"y":{"field":"p","type":"quantitative"},"text":{"field":"p","type":"quantitative","format":".4f"}}},
  {"data":{"values":[{}]},"mark":{"type":"tick","orient":"horizontal","size":21,"thickness":7,"color":"#000000","opacity":1},
   "encoding":{"x":{"datum":280.2},"y":{"datum":1.5593}}},
  {"data":{"values":[{}]},"mark":{"type":"text","align":"left","baseline":"middle","fontSize":5.7,"color":"#ffffff","text":"1.5593"},
   "encoding":{"x":{"datum":276.3},"y":{"datum":1.5593}}},
  {"data":{"values":[{}]},"mark":{"type":"text","align":"center","baseline":"middle","fontSize":5,"color":"#000000","text":"▼"},
   "encoding":{"x":{"datum":2.0},"y":{"datum":1.5842}}},
  {"data":{"values":[{}]},"mark":{"type":"text","align":"left","baseline":"middle","fontSize":5.7,"color":"#000000","text":"GBPUSD,H4  1.5584 1.5595 1.5579 1.5593"},
   "encoding":{"x":{"datum":3.9},"y":{"datum":1.5842}}}
 ]
},
{
 "width":660,"height":47,
 "layer":[
  {"data":{"name":"bars"},"mark":{"type":"rule","color":"#c0c0c0","strokeWidth":1},
   "encoding":{
    "x":{"field":"i","type":"quantitative","scale":{"domain":[-0.28,275.2],"nice":false,"zero":false},
         "axis":{"orient":"bottom","grid":true,"values":[0,8,16,24,32,40,48,56,64,72,80,88,96,104,112,120,128,136,144,152,160,168,176,184,192,200,208,216,224,232,240,248,256,264,272],
                 "labels":false,"tickSize":3,
                 "tickOpacity":{"condition":{"test":"datum.value % 16 == 0 && datum.value <= 208","value":1},"value":0}}},
    "y":{"field":"m","type":"quantitative","scale":{"domain":[-0.0071,0.01313],"nice":false,"zero":false},
         "axis":{"orient":"right","grid":true,"values":[0.01138,0,-0.00653],"labelExpr":"datum.value == 0 ? '0.00' : format(datum.value, '.5f')","labelPadding":0,"tickSize":2,"labelFontSize":5.0,"labelBaseline":"middle","labelOverlap":false,
                 "gridOpacity":{"condition":{"test":"datum.value == 0","value":1},"value":0}}},
    "y2":{"datum":0}
   }},
  {"data":{"name":"sig"},"mark":{"type":"line","color":"#ff3030","strokeWidth":1,"strokeDash":[1.5,1.5]},
   "encoding":{"x":{"field":"i","type":"quantitative"},"y":{"field":"v","type":"quantitative"}}},
  {"data":{"name":"xl"},"mark":{"type":"text","align":"left","baseline":"middle","fontSize":5.5,"color":"#000000","dx":0.5},
   "encoding":{"x":{"field":"i","type":"quantitative"},"y":{"datum":-0.01033},"text":{"field":"t"}}},
  {"data":{"values":[{}]},"mark":{"type":"text","align":"left","baseline":"middle","fontSize":5.7,"color":"#000000","text":"MACD(12,26,9) 0.00452 0.00451"},
   "encoding":{"x":{"datum":0.9},"y":{"datum":0.01055}}}
 ]
}
]
}
